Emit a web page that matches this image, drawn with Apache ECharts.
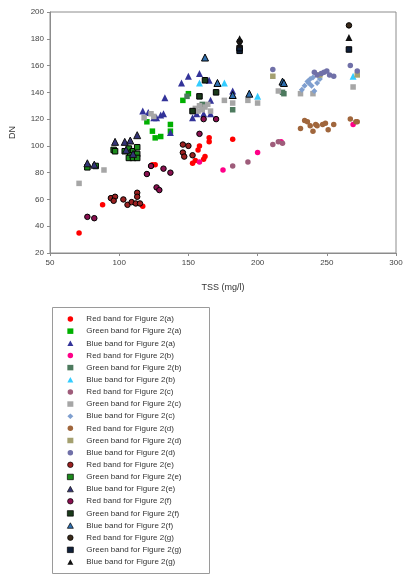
<!DOCTYPE html>
<html><head><meta charset="utf-8">
<script src="https://cdn.jsdelivr.net/npm/echarts@6/dist/echarts.min.js"></script>
<style>html,body{margin:0;padding:0;background:#fff}#c{width:406px;height:575px}</style>
</head><body><div id="c"></div>
<script>
const seriesNames = [
  'Red band for Figure 2(a)','Green band for Figure 2(a)','Blue band for Figure 2(a)',
  'Red band for Figure 2(b)','Green band for Figure 2(b)','Blue band for Figure 2(b)',
  'Red band for Figure 2(c)','Green band for Figure 2(c)','Blue band for Figure 2(c)',
  'Red band for Figure 2(d)','Green band for Figure 2(d)','Blue band for Figure 2(d)',
  'Red band for Figure 2(e)','Green band for Figure 2(e)','Blue band for Figure 2(e)',
  'Red band for Figure 2(f)','Green band for Figure 2(f)','Blue band for Figure 2(f)',
  'Red band for Figure 2(g)','Green band for Figure 2(g)','Blue band for Figure 2(g)'
];
const redA = [[71,35],[88,56],[117,55],[124,86],[126,86],[153,87],[155,89],[157,97],[158,100],[161,90],[162,92],[165,106],[165,103],[182,105]];
const greenA = [[120,118],[124,111],[126,106],[130,107],[137,116],[137,111],[146,134],[150,139]];
const blueA = [[117,126],[121,125],[125,121],[127,121],[130,123],[132,124],[133,136],[137,110],[145,147],[150,152],[153,121],[156,124],[161,124],[166,124],[166,134],[158,154],[165,149],[182,141]];
const redB = [[158,88],[175,82],[200,95],[217,103],[269,116]];
const greenB = [[149,137],[160,131],[182,127],[218,140],[219,139]];
const blueB = [[158,147],[176,147],[200,137],[269,152]];
const redC = [[182,85],[193,88],[211,101],[215,103],[218,102]];
const greenC = [[71,72],[89,82],[118,121],[123,124],[125,122],[155,128],[157,126],[158,130],[160,127],[162,129],[164,131],[166,126],[176,134],[182,132],[193,134],[200,132],[215,141],[231,139],[240,139],[269,144]];
const blueC = [[232,142],[234,145],[236,148],[237,147],[238,150],[239,145],[240,151],[241,141],[243,147],[245,150]];
const redD = [[231,113],[234,119],[236,118],[238,115],[240,111],[242,116],[243,115],[247,116],[249,117],[251,112],[255,116],[267,120],[271,118],[272,118]];
const greenD = [[211,152],[245,153],[272,153]];
const blueD = [[211,157],[241,155],[243,153],[246,154],[248,155],[250,156],[252,153],[255,152],[267,160],[272,156]];
const redE = [[94,61],[97,62],[96,59],[103,60],[106,56],[109,58],[112,57],[113,65],[113,62],[115,57],[146,101],[146,95],[147,92],[150,100],[153,93]];
const greenE = [[77,84],[83,85],[96,97],[97,96],[104,96],[107,98],[109,95],[110,96],[113,99],[113,94],[108,93],[107,91],[110,91],[113,91]];
const blueE = [[77,87],[82,86],[97,103],[104,103],[108,104],[113,108],[105,97],[110,94]];
const redF = [[77,47],[82,46],[120,79],[123,85],[132,83],[137,80],[127,69],[129,67],[158,109],[161,120],[170,120]];
const greenF = [[153,126],[158,137],[162,149],[170,140]];
const blueF = [[162,166],[171,147],[182,138],[194,139],[218,148],[219,147]];
const redG = [[187,178],[266,190]];
const greenG = [[187,171],[187,173],[266,172]];
const blueG = [[187,176],[187,180],[266,181]];

const allData = [redA,greenA,blueA,redB,greenB,blueB,redC,greenC,blueC,redD,greenD,blueD,redE,greenE,blueE,redF,greenF,blueF,redG,greenG,blueG];
const styles = [
  ['circle','#ff0000',null],['rect','#00b000',null],['triangle','#333399',null],
  ['circle','#ff0088',null],['rect','#4d7a5e',null],['triangle','#33ccff',null],
  ['circle','#9e5c7a',null],['rect','#a6a6a6',null],['diamond','#7f9fcf',null],
  ['circle','#a0663c',null],['rect','#a4a070',null],['circle','#7070a8',null],
  ['circle','#9a2020','#000'],['rect','#1b8a1b','#000'],['triangle','#333377','#111'],
  ['circle','#8a1050','#000'],['rect','#1a3a1a','#000'],['triangle','#3070b0','#000'],
  ['circle','#3a2a1a','#000'],['rect','#10203a','#000'],['triangle','#111111',null]
];
const series = seriesNames.map((n,i)=>({
  name:n, type:'scatter', data: allData[i], symbol: styles[i][0],
  symbolSize: styles[i][0]==='triangle'?7:(styles[i][0]==='diamond'?6:5.5),
  itemStyle:{color:styles[i][1], borderColor: styles[i][2]||styles[i][1], borderWidth: styles[i][2]?1:0, opacity:1}
}));
const legendData = seriesNames.map((n,i)=>({
  name:n, itemStyle:{borderWidth: styles[i][2]?0.7:0}
}));
const chart = echarts.init(document.getElementById('c'), null, {renderer:'canvas'});
const font = 'Liberation Sans, Arial, sans-serif';
chart.setOption({
  animation:false,
  textStyle:{fontFamily:font},
  grid:{left:50, top:12, right:10, bottom:322, show:true, borderColor:'#8c8c8c', borderWidth:1},
  xAxis:{type:'value', min:50, max:300, interval:50, name:'TSS (mg/l)', nameLocation:'middle', nameGap:30,
    nameTextStyle:{fontSize:9, color:'#333', fontFamily:font},
    axisLine:{lineStyle:{color:'#8c8c8c'}}, axisTick:{show:true, length:3, lineStyle:{color:'#8c8c8c'}},
    axisLabel:{fontSize:8, color:'#444', margin:6, fontFamily:font}, splitLine:{show:false}},
  yAxis:{type:'value', min:20, max:200, interval:20, name:'DN', nameLocation:'middle', nameGap:33,
    nameTextStyle:{fontSize:9, color:'#333', fontFamily:font},
    axisLine:{show:true, lineStyle:{color:'#8c8c8c'}}, axisTick:{show:true, length:3, lineStyle:{color:'#8c8c8c'}},
    axisLabel:{fontSize:8, color:'#444', margin:6, fontFamily:font}, splitLine:{show:false}},
  legend:{orient:'vertical', left:67, top:315, padding:0, itemWidth:6, itemHeight:5.5, itemGap:4.15,
    textStyle:{fontSize:8, color:'#333', lineHeight:8, padding:[0,0,0,8], fontFamily:font}, data: legendData},
  graphic:[{type:'rect', shape:{x:52.5, y:307.5, width:157, height:266}, style:{fill:'none', stroke:'#9a9a9a', lineWidth:1}, silent:true}],
  series: series
});
</script></body></html>
